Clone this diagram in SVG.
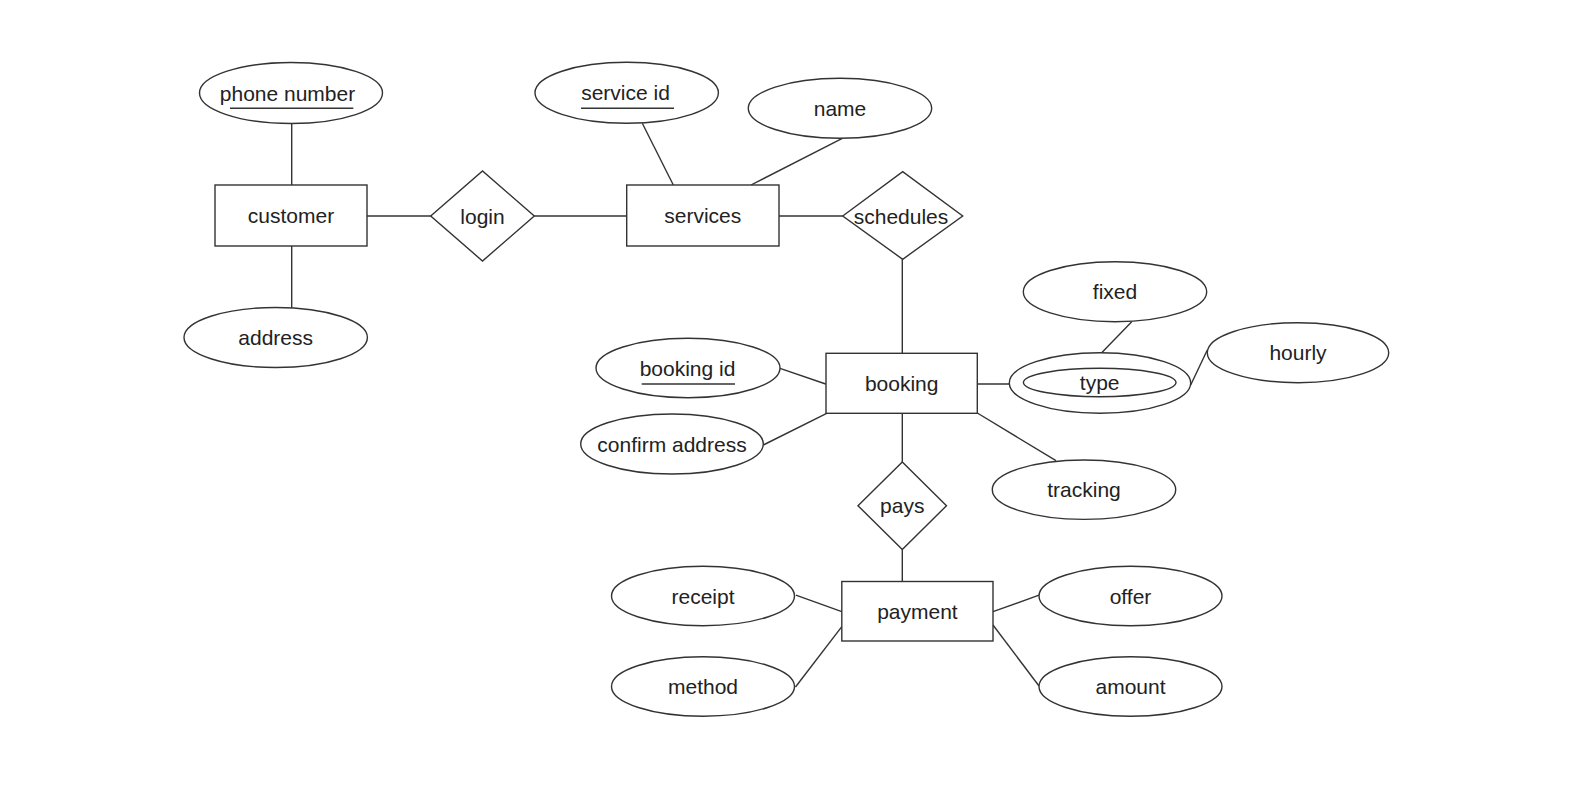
<svg xmlns="http://www.w3.org/2000/svg" width="1593" height="795" viewBox="0 0 1593 795">
<style>
.s{fill:#ffffff;stroke:#333333;stroke-width:1.4}
.c line{stroke:#333333;stroke-width:1.4}
.u{stroke:#333333;stroke-width:1.4}
text{font-family:"Liberation Sans",Arial,sans-serif;font-size:21px;fill:#222222;text-anchor:middle}
</style>
<rect width="1593" height="795" fill="#ffffff"/>
<g id="connectors" class="c">
<line x1="291.7" y1="123.3" x2="291.7" y2="185"/>
<line x1="291.7" y1="246" x2="291.7" y2="308"/>
<line x1="367" y1="216" x2="430.7" y2="216"/>
<line x1="534.3" y1="216" x2="626.7" y2="216"/>
<line x1="642.3" y1="123.3" x2="673.3" y2="185"/>
<line x1="842.3" y1="138.3" x2="751" y2="185"/>
<line x1="779" y1="216" x2="842.7" y2="216"/>
<line x1="902.3" y1="259.3" x2="902.3" y2="353.3"/>
<line x1="780" y1="368.3" x2="825.7" y2="384"/>
<line x1="763.3" y1="445" x2="826.7" y2="413.3"/>
<line x1="977.3" y1="384" x2="1009.3" y2="384"/>
<line x1="1131.7" y1="321.7" x2="1101.7" y2="352.7"/>
<line x1="1207.3" y1="350" x2="1190.7" y2="385"/>
<line x1="977.3" y1="413" x2="1056" y2="460.7"/>
<line x1="902.3" y1="413.3" x2="902.3" y2="462"/>
<line x1="902.3" y1="549.5" x2="902.3" y2="581.5"/>
<line x1="795.9" y1="595.2" x2="841.8" y2="611.7"/>
<line x1="795.5" y1="687" x2="841.8" y2="626.6"/>
<line x1="993" y1="611.7" x2="1039" y2="595.2"/>
<line x1="993" y1="625" x2="1039" y2="686"/>
</g>
<g id="customer"><rect class="s" x="215" y="185" width="152" height="61"/><text x="291" y="223">customer</text></g>
<g id="services"><rect class="s" x="626.7" y="185" width="152.3" height="61"/><text x="702.8" y="223">services</text></g>
<g id="booking"><rect class="s" x="826" y="353.3" width="151.3" height="60"/><text x="901.7" y="391">booking</text></g>
<g id="payment"><rect class="s" x="841.8" y="581.5" width="151.2" height="59.5"/><text x="917.4" y="619">payment</text></g>
<g id="login"><polygon class="s" points="430.7,216 482.5,171 534.3,216 482.5,261"/><text x="482.5" y="223.5">login</text></g>
<g id="schedules"><polygon class="s" points="842.7,216 902.7,171.7 962.7,216 902.7,259.3"/><text x="901" y="223.5">schedules</text></g>
<g id="pays"><polygon class="s" points="858,505.7 902.3,462 946.5,505.7 902.3,549.5"/><text x="902.3" y="513">pays</text></g>
<g id="phone_number"><ellipse class="s" cx="291" cy="93" rx="91.5" ry="30.5"/><text x="287.5" y="100.5">phone number</text><line class="u" x1="230" y1="108.3" x2="353.3" y2="108.3"/></g>
<g id="address"><ellipse class="s" cx="275.7" cy="337.5" rx="91.7" ry="30"/><text x="275.7" y="345">address</text></g>
<g id="service_id"><ellipse class="s" cx="626.7" cy="92.8" rx="91.7" ry="30.5"/><text x="625.5" y="100.3">service id</text><line class="u" x1="581" y1="108.3" x2="674" y2="108.3"/></g>
<g id="name"><ellipse class="s" cx="840" cy="108.3" rx="91.7" ry="30"/><text x="840" y="115.8">name</text></g>
<g id="booking_id"><ellipse class="s" cx="688" cy="368" rx="92" ry="29.7"/><text x="687.5" y="375.5">booking id</text><line class="u" x1="641.7" y1="384" x2="735" y2="384"/></g>
<g id="confirm_address"><ellipse class="s" cx="672" cy="444" rx="91.3" ry="30"/><text x="672" y="451.5">confirm address</text></g>
<g id="type"><ellipse class="s" cx="1100" cy="383" rx="90.7" ry="30.3"/><ellipse class="s" cx="1099.7" cy="382.5" rx="76.3" ry="14.2"/><text x="1099.7" y="390.3">type</text></g>
<g id="fixed"><ellipse class="s" cx="1115" cy="291.7" rx="91.7" ry="30"/><text x="1115" y="299.2">fixed</text></g>
<g id="hourly"><ellipse class="s" cx="1298" cy="352.7" rx="90.7" ry="30"/><text x="1298" y="360.2">hourly</text></g>
<g id="tracking"><ellipse class="s" cx="1084" cy="489.7" rx="91.7" ry="29.7"/><text x="1084" y="497.2">tracking</text></g>
<g id="receipt"><ellipse class="s" cx="703" cy="596" rx="91.5" ry="29.7"/><text x="703" y="603.5">receipt</text></g>
<g id="method"><ellipse class="s" cx="703" cy="686.5" rx="91.5" ry="29.7"/><text x="703" y="694">method</text></g>
<g id="offer"><ellipse class="s" cx="1130.5" cy="596" rx="91.5" ry="29.7"/><text x="1130.5" y="603.5">offer</text></g>
<g id="amount"><ellipse class="s" cx="1130.5" cy="686.5" rx="91.5" ry="29.7"/><text x="1130.5" y="694">amount</text></g>
</svg>
